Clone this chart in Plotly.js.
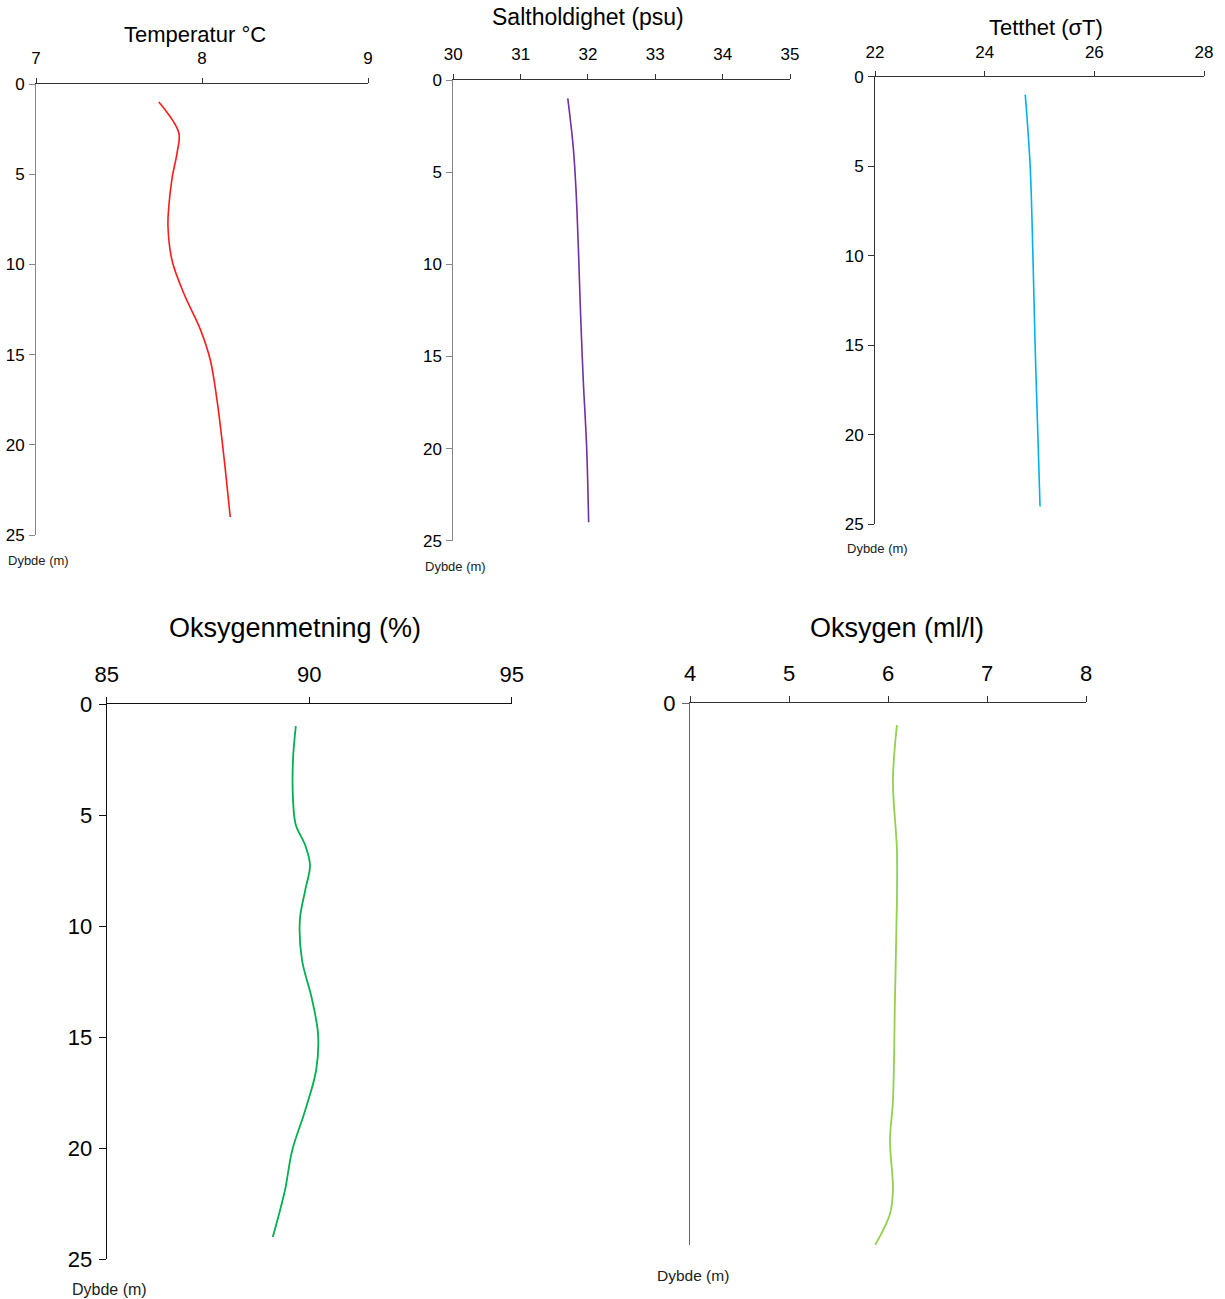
<!DOCTYPE html>
<html>
<head>
<meta charset="utf-8">
<script src="https://cdn.plot.ly/plotly-3.0.1.min.js"></script>
<style>html,body{margin:0;padding:0;background:#fff;}#chart{width:1225px;height:1299px;}</style>
</head>
<body>
<div id="chart"></div>
<script>
// ---- data ----
const tempDepth = [1.0, 2.7, 3.8, 5.2, 6.8, 7.9, 9.8, 11.6, 13.6, 15.3, 17.5, 20.5, 24.0];
const tempVals  = [7.74, 7.86, 7.85, 7.82, 7.80, 7.795, 7.82, 7.89, 7.99, 8.05, 8.09, 8.13, 8.17];

const salDepth = [1.0, 3.6, 5.8, 9.4, 12.7, 16.3, 19.9, 24.0];
const salVals  = [31.70, 31.78, 31.82, 31.86, 31.89, 31.93, 31.98, 32.01];

const densDepth = [1.0, 5.0, 10.0, 15.0, 20.0, 24.0];
const densVals  = [24.74, 24.83, 24.88, 24.92, 24.97, 25.01];

const satDepth = [1.0, 2.5, 4.3, 5.45, 6.35, 7.25, 8.4, 9.7, 11.5, 13.3, 14.9, 16.5, 18.3, 20.1, 21.9, 24.0];
const satVals  = [89.67, 89.6, 89.6, 89.67, 89.9, 90.02, 89.9, 89.77, 89.82, 90.07, 90.22, 90.17, 89.9, 89.58, 89.4, 89.1];

const oxyDepth = [1.0, 3.5, 6.6, 8.9, 13.4, 17.9, 19.7, 21.9, 23.0, 24.4];
const oxyVals  = [6.09, 6.05, 6.09, 6.09, 6.07, 6.05, 6.02, 6.05, 6.02, 5.87];

const titles = ["Temperatur °C", "Saltholdighet (psu)", "Tetthet (σT)", "Oksygenmetning (%)", "Oksygen (ml/l)"];
const depthLabel = "Dybde (m)";
const depthTicks = [0, 5, 10, 15, 20, 25];

// ---- layout helpers ----
const W = 1225, H = 1299;
const fx = p => p / W;
const fy = p => 1 - p / H;
const FONT = "Liberation Sans, Arial, sans-serif";

const traces = [
  {x: tempVals, y: tempDepth, xaxis: 'x', yaxis: 'y', line: {color: '#ff1a1a', width: 1.6, shape: 'spline'}},
  {x: salVals, y: salDepth, xaxis: 'x2', yaxis: 'y2', line: {color: '#7030a0', width: 1.6, shape: 'spline'}},
  {x: densVals, y: densDepth, xaxis: 'x3', yaxis: 'y3', line: {color: '#00b0f0', width: 1.6, shape: 'spline'}},
  {x: satVals, y: satDepth, xaxis: 'x4', yaxis: 'y4', line: {color: '#00b050', width: 1.8, shape: 'spline'}},
  {x: oxyVals, y: oxyDepth, xaxis: 'x5', yaxis: 'y5', line: {color: '#92d050', width: 1.8, shape: 'spline'}}
].map(t => Object.assign(t, {type: 'scatter', mode: 'lines', showlegend: false, hoverinfo: 'skip'}));

function xax(dom, anchor, range, dtick, size, lcol, ticklen, standoff) {
  return {domain: [fx(dom[0]), fx(dom[1])], anchor: anchor, side: 'top', range: range, dtick: dtick,
    tick0: range[0], showgrid: false, zeroline: false, showline: true, linecolor: lcol, linewidth: 1,
    ticks: 'outside', ticklen: ticklen, tickcolor: lcol, tickwidth: 1, ticklabelstandoff: standoff,
    tickfont: {family: FONT, size: size, color: '#000'}, fixedrange: true};
}
function yax(dom, anchor, range, tickvals, size, lcol, ticklen, standoff) {
  return {domain: [fy(dom[1]), fy(dom[0])], anchor: anchor, range: range, tickmode: 'array', tickvals: tickvals,
    showgrid: false, zeroline: false, showline: true, linecolor: lcol, linewidth: 1,
    ticks: 'outside', ticklen: ticklen, tickcolor: lcol, tickwidth: 1, ticklabelstandoff: standoff,
    tickfont: {family: FONT, size: size, color: '#000'}, fixedrange: true};
}

const layout = {
  width: W, height: H, margin: {l: 0, r: 0, t: 0, b: 0},
  paper_bgcolor: '#fff', plot_bgcolor: 'rgba(0,0,0,0)',
  xaxis:  xax([36, 368], 'y', [7, 9], 1, 17, '#333', 5, 7),
  yaxis:  yax([84, 535], 'x', [25, 0], depthTicks, 17, '#888', 6, 1),
  xaxis2: xax([453.3, 790], 'y2', [30, 35], 1, 17, '#333', 5, 7),
  yaxis2: yax([80, 540.7], 'x2', [25, 0], depthTicks, 17, '#888', 6, 1),
  xaxis3: xax([875, 1204], 'y3', [22, 28], 2, 17, '#333', 5, 6),
  yaxis3: yax([76.7, 524.3], 'x3', [25, 0], depthTicks, 17, '#333', 6, 1),
  xaxis4: xax([106.7, 511.7], 'y4', [85, 95], 5, 22, '#111', 6, 6),
  yaxis4: yax([704, 1259.3], 'x4', [25, 0], depthTicks, 22, '#111', 7, 2),
  xaxis5: xax([690, 1086], 'y5', [4, 8], 1, 22, '#333', 6, 6),
  yaxis5: yax([703, 1245], 'x5', [24.4, 0], [0], 22, '#666', 7, 2),
  annotations: [
    {text: titles[0], x: fx(195), y: fy(35), size: 22},
    {text: titles[1], x: fx(588), y: fy(17), size: 23},
    {text: titles[2], x: fx(1046), y: fy(28), size: 22},
    {text: titles[3], x: fx(295), y: fy(628), size: 27},
    {text: titles[4], x: fx(897), y: fy(628), size: 27},
    {text: depthLabel, x: fx(38), y: fy(560), size: 13},
    {text: depthLabel, x: fx(455), y: fy(566), size: 13},
    {text: depthLabel, x: fx(877), y: fy(549), size: 13},
    {text: depthLabel, x: fx(109), y: fy(1289), size: 16},
    {text: depthLabel, x: fx(693), y: fy(1275), size: 15.5}
  ].map(a => ({text: a.text, x: a.x, y: a.y, xref: 'paper', yref: 'paper', xanchor: 'center', yanchor: 'middle',
    showarrow: false, font: {family: FONT, size: a.size, color: a.size < 17 ? '#222' : '#000'}}))
};

Plotly.newPlot('chart', traces, layout, {displayModeBar: false, staticPlot: true});
</script>
</body>
</html>
